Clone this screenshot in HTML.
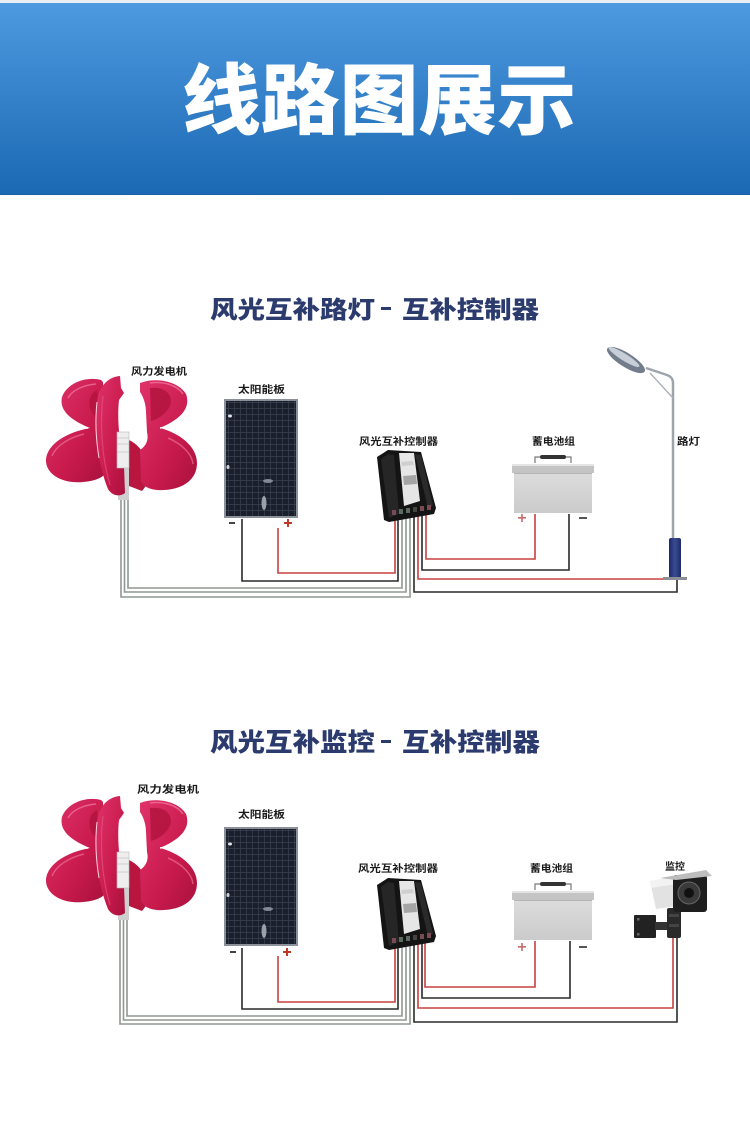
<!DOCTYPE html>
<html><head><meta charset="utf-8">
<style>
html,body{margin:0;padding:0;background:#fff;}
svg{display:block;}
text{font-family:"Liberation Sans","Noto Sans CJK SC",sans-serif;font-weight:bold;}
</style></head><body>
<svg width="750" height="1143" viewBox="0 0 750 1143" xmlns="http://www.w3.org/2000/svg">
<defs>
<linearGradient id="hdr" x1="0" y1="0" x2="0" y2="1">
 <stop offset="0" stop-color="#4d9ae0"/>
 <stop offset="1" stop-color="#1b68b3"/>
</linearGradient>
<linearGradient id="bl" x1="0" y1="0" x2="1" y2="1">
 <stop offset="0" stop-color="#e0336a"/>
 <stop offset="0.6" stop-color="#c81a4c"/>
 <stop offset="1" stop-color="#a8113d"/>
</linearGradient>
<linearGradient id="battg" x1="0" y1="0" x2="0" y2="1">
 <stop offset="0" stop-color="#dcdcdc"/>
 <stop offset="1" stop-color="#cbcbcb"/>
</linearGradient>
<linearGradient id="baseg" x1="0" y1="0" x2="1" y2="0">
 <stop offset="0" stop-color="#1d2a66"/>
 <stop offset="0.5" stop-color="#3a4c95"/>
 <stop offset="1" stop-color="#1d2a66"/>
</linearGradient>
<pattern id="cells" width="6" height="6" patternUnits="userSpaceOnUse">
 <rect width="6" height="6" fill="#1a1f2b"/>
 <path d="M0 0.5H6M0.5 0V6" stroke="#3a4152" stroke-width="0.7"/>
</pattern>

<g id="turb">
 <!-- rod -->
 <rect x="118" y="455" width="11" height="45" fill="#cfcfcf"/>
 <!-- back blade lower right -->
 <path d="M129,440 C142,446 151,462 149,482 L142,491 L129,486 Z" fill="#b8153f"/>
 <!-- left outer blade (solid) -->
 <path d="M101,380 C86,376 67,383 62,397 C59,410 70,420 90,428 C68,432 48,443 46,459 C45,474 62,484 83,482 C96,481 104,477 106,472 L104,428 L103,382 Z" fill="url(#bl)"/>
 <!-- right blade (solid) -->
 <path d="M140,383 C156,377 178,381 186,394 C191,408 181,419 160,428 C179,433 197,446 197,463 C197,479 184,489 164,490 C150,491 143,486 141,481 L140,450 C146,446 149,440 147,432 L146,412 C146,404 143,396 140,392 Z" fill="url(#bl)"/>
 <!-- inner darker shading on right upper lobe -->
 <path d="M150,388 C164,386 174,394 170,406 C166,414 158,419 151,421 Z" fill="#b3143e" opacity=".85"/>
 <!-- inner darker shading on left upper lobe -->
 <path d="M97,390 C88,394 86,408 96,418 L100,418 Z" fill="#b3143e" opacity=".85"/>
 <!-- white gap at waists -->
 <path d="M64,424 C72,426 80,428 88,428" stroke="#fff" stroke-width="1.5" fill="none"/>
 <path d="M160,428 C170,427 178,424 184,420" stroke="#fff" stroke-width="1.5" fill="none"/>
 <!-- center blade -->
 <path d="M120,376 C108,377 99,386 97,402 C94,428 97,462 108,489 C112,496 120,497 125,493 L124,466 C119,440 117,418 119,400 L124,393 L121,388 Z" fill="url(#bl)"/>
 <path d="M97,402 C95,420 96,440 99,458" stroke="#fff" stroke-width="1" fill="none" opacity=".8"/>
 <!-- highlights -->
 <path d="M68,398 C72,390 84,385 96,384" stroke="#f27aa2" stroke-width="1.5" fill="none" opacity=".7"/>
 <path d="M52,456 C56,446 68,438 84,434" stroke="#f27aa2" stroke-width="1.5" fill="none" opacity=".6"/>
 <path d="M150,383 C165,381 178,386 183,394" stroke="#f27aa2" stroke-width="1.5" fill="none" opacity=".7"/>
 <path d="M168,438 C182,444 192,454 193,464" stroke="#f27aa2" stroke-width="1.5" fill="none" opacity=".6"/>
 <path d="M103,396 C100,420 101,455 110,485" stroke="#ea5a88" stroke-width="1.2" fill="none" opacity=".6"/>
 <!-- hub -->
 <rect x="117" y="432" width="12" height="36" fill="#eeeeee" stroke="#b8b8b8" stroke-width="0.6"/>
 <path d="M117,438H129M117,444H129M117,452H129" stroke="#b0b0b0" stroke-width="0.6"/>
</g>

<g id="panel">
 <rect x="225" y="400" width="72" height="117" fill="url(#cells)" stroke="#8b9099" stroke-width="2"/>
 <ellipse cx="230" cy="416" rx="2" ry="1.5" fill="#dfe4ea"/>
 <ellipse cx="228" cy="467" rx="1.5" ry="2" fill="#cfd4da"/>
 <ellipse cx="268" cy="481" rx="5" ry="2" fill="#9aa0aa" opacity=".8"/>
 <ellipse cx="264" cy="503" rx="2.5" ry="7" fill="#b8bdc5" opacity=".8"/>
</g>

<g id="ctrl">
 <polygon points="377,457 388,450 421,452 436,508 434,514 389,522 384,520" fill="#141414"/>
 <polygon points="381,459 388,454 394,455 399,514 389,518" fill="#262626"/>
 <polygon points="415,454 421,455 433,506 428,508" fill="#2a2a2a"/>
 <polygon points="399,453 414,453 420,501 404,506" fill="#e6e6e6"/>
 <polygon points="401,462 413,461 414,465 402,466" fill="#cfcfcf"/>
 <polygon points="403,476 416,475 417,484 404,485" fill="#a5a5a5"/>
 <rect x="392" y="510" width="4" height="5" fill="#7a4a55"/>
 <rect x="399" y="509" width="4" height="5" fill="#5c6a62"/>
 <rect x="406" y="508" width="4" height="5" fill="#5c6a62"/>
 <rect x="413" y="507" width="4" height="5" fill="#444"/>
 <rect x="420" y="506" width="4" height="5" fill="#7a4a55"/>
 <rect x="427" y="505" width="4" height="5" fill="#7a4a55"/>
</g>

<g id="batt">
 <path d="M535,463 L535,457 L571,457 L571,463" fill="none" stroke="#777" stroke-width="1.2"/>
 <rect x="540" y="455" width="26" height="4" rx="2" fill="#333"/>
 <rect x="512" y="464" width="82" height="9" fill="#c4c4c4"/>
 <rect x="512" y="464" width="82" height="2" fill="#e4e4e4"/>
 <rect x="514" y="473" width="78" height="40" fill="url(#battg)"/>
 <rect x="514" y="473" width="78" height="1" fill="#b5b5b5"/>
</g>
</defs>

<!-- Header -->
<rect x="0" y="0" width="750" height="3" fill="#e9eef5"/>
<rect x="0" y="3" width="750" height="192" fill="url(#hdr)"/>
<rect x="0" y="194" width="750" height="1" fill="#1a5fa6"/>
<text x="182" y="128" font-size="77" fill="#ffffff" textLength="394" lengthAdjust="spacingAndGlyphs" style="font-weight:900">线路图展示</text>

<!-- ============ Diagram 1 ============ -->
<text x="210" y="318" font-size="24" fill="#2c3b6e" textLength="165" lengthAdjust="spacingAndGlyphs" style="font-weight:900">风光互补路灯</text>
<rect x="381" y="307" width="10" height="3" fill="#2c3b6e"/>
<text x="402" y="318" font-size="24" fill="#2c3b6e" textLength="137" lengthAdjust="spacingAndGlyphs" style="font-weight:900">互补控制器</text>

<!-- wires D1 -->
<g fill="none" stroke-width="1.6">
 <path d="M121,468 V597 H410 V512" stroke="#8f9893"/>
 <path d="M124.5,468 V592 H406 V512" stroke="#8f9893"/>
 <path d="M128,468 V588 H402 V512" stroke="#8f9893"/>
 <path d="M242,519 V581 H398 V512" stroke="#2a2a2a"/>
 <path d="M278,528 V573 H395 V512" stroke="#c8403f"/>
 <path d="M535,514 V559 H426 V510" stroke="#c8403f"/>
 <path d="M569,514 V570 H422 V510" stroke="#2a2a2a"/>
 <path d="M670,579 H418 V510" stroke="#c8403f"/>
 <path d="M677,579 V592 H414 V510" stroke="#2a2a2a"/>
</g>

<use href="#turb"/>
<use href="#panel"/>
<use href="#ctrl"/>
<use href="#batt"/>

<!-- +/- D1 -->
<rect x="229" y="522" width="6" height="2" fill="#444"/>
<rect x="284" y="522" width="8" height="2" fill="#c0392b"/>
<rect x="287" y="519" width="2" height="8" fill="#c0392b"/>
<rect x="518" y="517" width="8" height="1.6" fill="#c86a6a"/>
<rect x="521.2" y="514" width="1.6" height="8" fill="#c86a6a"/>
<rect x="579" y="517" width="8" height="2" fill="#555"/>

<!-- street lamp -->
<path d="M673,540 V383 Q673,377 667,375 L646,368" stroke="#9ea4ac" stroke-width="2.5" fill="none"/>
<path d="M673,398 L650,373" stroke="#a9afb7" stroke-width="1.3" fill="none"/>
<ellipse cx="626" cy="360" rx="22" ry="7" transform="rotate(32 626 360)" fill="#737c8b"/>
<ellipse cx="624" cy="357" rx="18" ry="3.5" transform="rotate(32 624 357)" fill="#c7ced8"/>
<rect x="669" y="538" width="12" height="40" rx="2" fill="url(#baseg)"/>
<rect x="663" y="577" width="24" height="3" fill="#8a8f96"/>

<!-- labels D1 -->
<g font-size="10" fill="#1a1a1a">
 <text x="131" y="375" textLength="56" lengthAdjust="spacingAndGlyphs">风力发电机</text>
 <text x="238" y="393" textLength="47" lengthAdjust="spacingAndGlyphs">太阳能板</text>
 <text x="359" y="445" textLength="79" lengthAdjust="spacingAndGlyphs">风光互补控制器</text>
 <text x="532" y="445" textLength="43" lengthAdjust="spacingAndGlyphs">蓄电池组</text>
 <text x="677" y="445" textLength="23" lengthAdjust="spacingAndGlyphs">路灯</text>
</g>

<!-- ============ Diagram 2 ============ -->
<text x="210" y="751" font-size="25" fill="#2c3b6e" textLength="165" lengthAdjust="spacingAndGlyphs" style="font-weight:900">风光互补监控</text>
<rect x="381" y="740" width="10" height="3" fill="#2c3b6e"/>
<text x="402" y="751" font-size="25" fill="#2c3b6e" textLength="138" lengthAdjust="spacingAndGlyphs" style="font-weight:900">互补控制器</text>

<!-- wires D2 -->
<g fill="none" stroke-width="1.6">
 <path d="M120,888 V1024 H410 V940" stroke="#8f9893"/>
 <path d="M123.5,888 V1020 H406 V940" stroke="#8f9893"/>
 <path d="M127,888 V1016 H402 V940" stroke="#8f9893"/>
 <path d="M242,948 V1009 H398 V940" stroke="#2a2a2a"/>
 <path d="M278,956 V1002 H395 V940" stroke="#c8403f"/>
 <path d="M535,941 V987 H425 V938" stroke="#c8403f"/>
 <path d="M570,941 V998 H422 V938" stroke="#2a2a2a"/>
 <path d="M673,935 V1008 H418 V938" stroke="#c8403f"/>
 <path d="M677,935 V1022 H414 V938" stroke="#2a2a2a"/>
</g>

<use href="#turb" transform="translate(0,420)"/>
<use href="#panel" transform="translate(0,428)"/>
<use href="#ctrl" transform="translate(0,428)"/>
<use href="#batt" transform="translate(0,427)"/>

<!-- +/- D2 -->
<rect x="230" y="951" width="6" height="2" fill="#444"/>
<rect x="283" y="951" width="8" height="2" fill="#c0392b"/>
<rect x="286" y="948" width="2" height="8" fill="#c0392b"/>
<rect x="518" y="946" width="8" height="1.6" fill="#c86a6a"/>
<rect x="521.2" y="943" width="1.6" height="8" fill="#c86a6a"/>
<rect x="579" y="946" width="8" height="2" fill="#555"/>

<!-- camera -->
<rect x="634" y="915" width="22" height="23" rx="1" fill="#222"/>
<rect x="637" y="918" width="2.5" height="2.5" fill="#666"/>
<rect x="637" y="933" width="2.5" height="2.5" fill="#666"/>
<rect x="655" y="922" width="14" height="8" fill="#333"/>
<rect x="667" y="908" width="14" height="30" rx="2" fill="#2a2a2a"/>
<rect x="669" y="914" width="10" height="3" fill="#444"/>
<rect x="669" y="924" width="10" height="3" fill="#444"/>
<polygon points="650,881 676,877 677,906 656,909" fill="#e2e2e2"/>
<polygon points="650,881 676,877 676,884 651,888" fill="#f2f2f2"/>
<rect x="673" y="875" width="34" height="37" rx="3" fill="#1e1e1e"/>
<path d="M660,878 L706,870 L712,876 L676,880 Z" fill="#bdbdbd"/>
<circle cx="689" cy="893" r="11" fill="#3a3a3a" stroke="#666" stroke-width="1"/>
<circle cx="689" cy="893" r="5" fill="#111"/>

<!-- labels D2 -->
<g font-size="10" fill="#1a1a1a">
 <text x="137" y="793" textLength="62" lengthAdjust="spacingAndGlyphs">风力发电机</text>
 <text x="238" y="818" textLength="47" lengthAdjust="spacingAndGlyphs">太阳能板</text>
 <text x="358" y="872" textLength="80" lengthAdjust="spacingAndGlyphs">风光互补控制器</text>
 <text x="530" y="872" textLength="43" lengthAdjust="spacingAndGlyphs">蓄电池组</text>
 <text x="665" y="870" textLength="20" lengthAdjust="spacingAndGlyphs">监控</text>
</g>
</svg>
</body></html>
